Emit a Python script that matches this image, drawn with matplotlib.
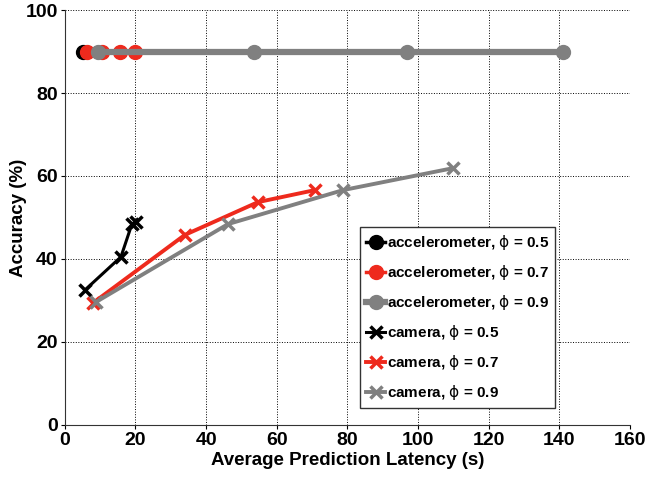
import matplotlib
matplotlib.use('Agg')
import matplotlib.pyplot as plt

plt.rcParams['font.family'] = ['Liberation Sans', 'DejaVu Sans']
plt.rcParams['mathtext.fontset'] = 'custom'
plt.rcParams['mathtext.rm'] = 'DejaVu Sans'
plt.rcParams['mathtext.it'] = 'DejaVu Sans'

# accelerometer series (latency s, accuracy %)
acc_05_x = [5.1]
acc_05_y = [90]
acc_07_x = [6.2, 10.5, 15.6, 19.8]
acc_07_y = [90, 90, 90, 90]
acc_09_x = [9.3, 53.5, 97.0, 141.0]
acc_09_y = [90, 90, 90, 90]

# camera series
cam_05_x = [5.7, 15.9, 19.0, 20.1]
cam_05_y = [32.5, 40.5, 48.4, 48.9]
cam_07_x = [8.0, 34.0, 54.7, 70.8]
cam_07_y = [29.4, 45.8, 53.7, 56.6]
cam_09_x = [8.8, 46.2, 78.8, 110.0]
cam_09_y = [29.6, 48.4, 56.6, 61.9]

xticks = [0, 20, 40, 60, 80, 100, 120, 140, 160]
yticks = [0, 20, 40, 60, 80, 100]

black = '#000000'
red = '#ee2a1d'
gray = '#808080'
phi = '$\\mathrm{\u03d5}$'

fig = plt.figure(figsize=(6.61, 4.79), dpi=100)
ax = fig.add_axes([0.098, 0.113, 0.855, 0.866])

ax.plot(acc_05_x, acc_05_y, '-o', color=black, lw=2.5, ms=10,
        label='accelerometer, ' + phi + ' = 0.5')
ax.plot(acc_07_x, acc_07_y, '-o', color=red, lw=2.5, ms=10,
        label='accelerometer, ' + phi + ' = 0.7')
ax.plot(acc_09_x, acc_09_y, '-o', color=gray, lw=4.5, ms=10,
        label='accelerometer, ' + phi + ' = 0.9')
ax.plot(cam_05_x, cam_05_y, '-x', color=black, lw=2.2, ms=9, mew=2.5,
        label='camera, ' + phi + ' = 0.5')
ax.plot(cam_07_x, cam_07_y, '-x', color=red, lw=2.8, ms=9, mew=2.5,
        label='camera, ' + phi + ' = 0.7')
ax.plot(cam_09_x, cam_09_y, '-x', color=gray, lw=2.8, ms=9, mew=2.5,
        label='camera, ' + phi + ' = 0.9')

ax.set_xlim(0, 160)
ax.set_ylim(0, 100)
ax.set_xticks(xticks)
ax.set_yticks(yticks)
ax.grid(True, linestyle=':', color='black', lw=0.7)
ax.spines['top'].set_visible(False)
ax.spines['right'].set_visible(False)
for s in ('left', 'bottom'):
    ax.spines[s].set_color('#333333')
for lbl in ax.get_xticklabels() + ax.get_yticklabels():
    lbl.set_fontweight('bold')
    lbl.set_fontsize(14)
ax.tick_params(direction='out', length=3, pad=2)
ax.set_xlabel('Average Prediction Latency (s)', fontsize=13.5, fontweight='bold', labelpad=2)
ax.set_ylabel('Accuracy (%)', fontsize=13.5, fontweight='bold', labelpad=-1)

leg = ax.legend(loc='lower right', bbox_to_anchor=(0.868, 0.04),
                prop={'weight': 'bold', 'size': 11}, handlelength=1.2,
                handletextpad=0.15, borderpad=0.4, borderaxespad=0,
                labelspacing=0.72, fancybox=False, framealpha=1)
leg.get_frame().set_edgecolor('#333333')
leg.get_frame().set_linewidth(1)

fig.savefig('out.png', dpi=100)
